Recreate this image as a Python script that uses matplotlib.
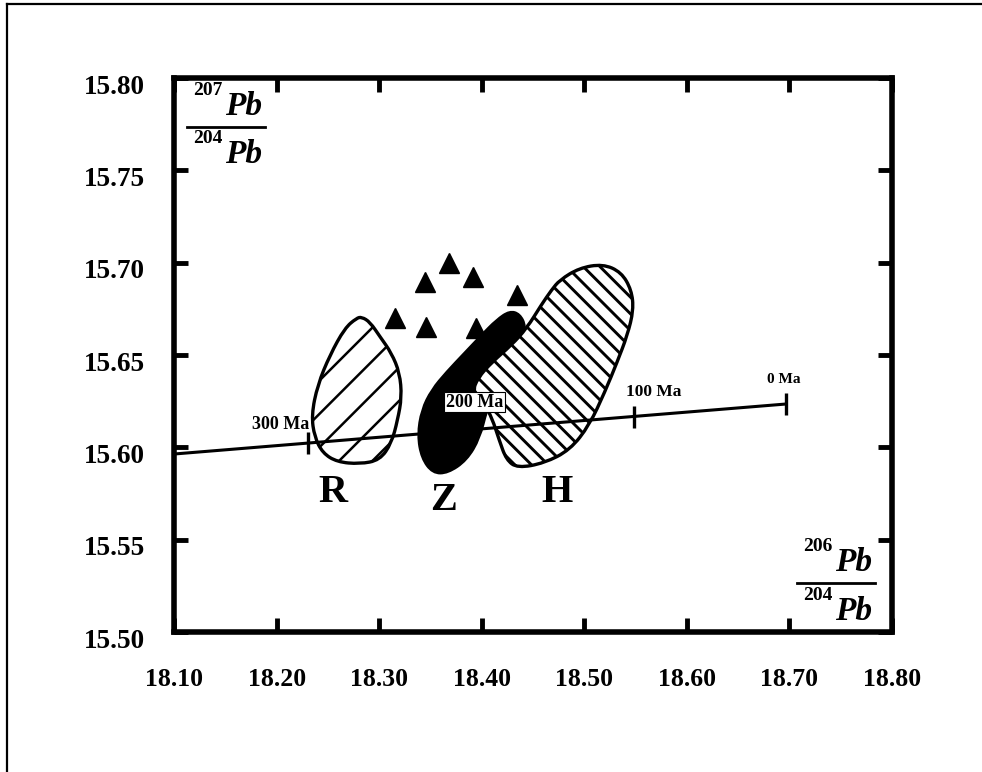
import matplotlib
matplotlib.use("Agg")
import matplotlib.pyplot as plt
from matplotlib.path import Path
from matplotlib.patches import PathPatch
from matplotlib.lines import Line2D
from matplotlib.transforms import ScaledTranslation

# ---------------- data ----------------
x_ticks = [18.10, 18.20, 18.30, 18.40, 18.50, 18.60, 18.70, 18.80]
y_ticks = [15.50, 15.55, 15.60, 15.65, 15.70, 15.75, 15.80]

# triangles (207Pb/204Pb vs 206Pb/204Pb)
tri_x = [18.315, 18.345, 18.368, 18.391, 18.346, 18.434, 18.394]
tri_y = [15.670, 15.6895, 15.700, 15.692, 15.665, 15.6825, 15.6646]

# field R (hatched /)
R_x = [18.278, 18.2665, 18.252, 18.240, 18.234, 18.237, 18.245, 18.259, 18.281,
       18.3006, 18.312, 18.318, 18.322, 18.320, 18.312, 18.301, 18.291, 18.283]
R_y = [15.670, 15.6646, 15.650, 15.6338, 15.6175, 15.6056, 15.5969, 15.5921, 15.591,
       15.5931, 15.6023, 15.6148, 15.6273, 15.6403, 15.6511, 15.6598, 15.6679, 15.6706]

# field Z (solid black)
Z_x = [18.3522, 18.3415, 18.3376, 18.3415, 18.3512, 18.3658, 18.3834, 18.3999, 18.4145,
       18.4272, 18.4369, 18.4428, 18.4389, 18.4252, 18.4126, 18.4048, 18.398, 18.3853,
       18.3668]
Z_y = [15.5861, 15.5942, 15.6067, 15.6202, 15.6311, 15.6408, 15.6511, 15.6608, 15.669,
       15.6738, 15.6722, 15.6657, 15.6565, 15.6446, 15.6321, 15.6202, 15.6051, 15.5931,
       15.5861]

# field H (hatched \)
H_x = [18.476, 18.495, 18.518, 18.536, 18.546, 18.548, 18.542, 18.532, 18.520, 18.505,
       18.486, 18.461, 18.435, 18.424, 18.417, 18.410, 18.403, 18.391, 18.396, 18.410,
       18.429, 18.444, 18.458, 18.468]
H_y = [15.6906, 15.6971, 15.6993, 15.6949, 15.6852, 15.6744, 15.6608, 15.6462, 15.630,
       15.6121, 15.5986, 15.5915, 15.5888, 15.5932, 15.604, 15.6159, 15.6229, 15.630,
       15.6375, 15.6462, 15.6554, 15.6646, 15.6771, 15.6852]

# growth curve and age marks
curve_x = [18.10, 18.697]
curve_y = [15.5964, 15.6235]
age_names = ["300 Ma", "200 Ma", "100 Ma", "0 Ma"]
age_x = [18.2305, 18.39, 18.548, 18.697]
age_y = [15.6023, 15.6096, 15.6167, 15.6235]

field_names = ["R", "Z", "H"]
field_lx = [18.255, 18.363, 18.473]
field_ly = [15.5753, 15.5715, 15.5753]

# ---------------- style ----------------
plt.rcParams["font.family"] = ["Liberation Serif", "DejaVu Serif"]

fig = plt.figure(figsize=(9.82, 7.72), dpi=100)
fig.patch.set_facecolor("white")
ax = fig.add_axes([0.1772, 0.1813, 0.7312, 0.7176])


def smooth_closed(xs, ys):
    pts = list(zip(xs, ys))
    n = len(pts)
    mid = lambda a, b: ((a[0] + b[0]) / 2, (a[1] + b[1]) / 2)
    verts = [mid(pts[-1], pts[0])]
    codes = [Path.MOVETO]
    for i in range(n):
        verts += [pts[i], mid(pts[i], pts[(i + 1) % n])]
        codes += [Path.CURVE3, Path.CURVE3]
    verts.append(verts[0])
    codes.append(Path.CLOSEPOLY)
    return Path(verts, codes)


def hatched(path, hatch, hlw, **kw):
    plt.rcParams["hatch.linewidth"] = hlw
    p = PathPatch(path, hatch=hatch, **kw)
    if hasattr(p, "set_hatch_linewidth"):
        p.set_hatch_linewidth(hlw)
    return p


ax.add_patch(PathPatch(smooth_closed(Z_x, Z_y), facecolor="black",
                       edgecolor="black", lw=2, zorder=2))
ax.add_patch(hatched(smooth_closed(R_x, R_y), "/", 1.8, facecolor="white",
                     edgecolor="black", lw=2.4, zorder=2))
ax.add_patch(hatched(smooth_closed(H_x, H_y), "\\\\", 2.1, facecolor="white",
                     edgecolor="black", lw=2.4, zorder=3))

ax.plot(curve_x, curve_y, color="black", lw=2.2, zorder=4, solid_capstyle="butt")
ax.plot([age_x[0], age_x[2], age_x[3]], [age_y[0], age_y[2], age_y[3]],
        ls="none", marker="|", ms=16, mew=2.4, color="black", zorder=4)

ax.plot(tri_x, tri_y, ls="none", marker="^", ms=15, color="black", zorder=5)

ax.text(age_x[0] + 0.001, 15.6126, age_names[0], ha="right", va="center",
        fontsize=13, fontweight="bold", zorder=6)
ax.text(18.393, 15.6245, age_names[1], ha="center", va="center",
        fontsize=13, fontweight="bold", zorder=6,
        bbox=dict(facecolor="white", edgecolor="black", lw=0.8, pad=1.0))
ax.text(18.541, 15.630, age_names[2], ha="left", va="center",
        fontsize=12.5, fontweight="bold", zorder=6)
ax.text(18.678, 15.637, age_names[3], ha="left", va="center",
        fontsize=11, fontweight="bold", zorder=6)

for name, lx, ly in zip(field_names, field_lx, field_ly):
    ax.text(lx, ly, name, ha="center", va="center", fontsize=29,
            fontweight="bold", zorder=6)


# axis label fractions
def frac(ax, x_num_end, y_base_num, y_line, x_line0, x_line1, y_base_den, top, bottom):
    ax.text(x_num_end, y_base_num + 0.036, top, transform=ax.transAxes,
            ha="right", va="baseline", fontsize=14, fontweight="bold")
    ax.text(x_num_end + 0.003, y_base_num, "Pb", transform=ax.transAxes,
            ha="left", va="baseline", fontsize=24, fontstyle="italic",
            fontweight="bold")
    ax.add_line(Line2D([x_line0, x_line1], [y_line, y_line], transform=ax.transAxes,
                       color="black", lw=2))
    ax.text(x_num_end, y_base_den + 0.036, bottom, transform=ax.transAxes,
            ha="right", va="baseline", fontsize=14, fontweight="bold")
    ax.text(x_num_end + 0.003, y_base_den, "Pb", transform=ax.transAxes,
            ha="left", va="baseline", fontsize=24, fontstyle="italic",
            fontweight="bold")


frac(ax, 0.0675, 0.933, 0.912, 0.018, 0.127, 0.8466, "207", "204")
frac(ax, 0.917, 0.110, 0.089, 0.868, 0.976, 0.0217, "206", "204")

# axes
ax.set_xlim(x_ticks[0], x_ticks[-1])
ax.set_ylim(y_ticks[0], y_ticks[-1])
ax.set_xticks(x_ticks)
ax.set_yticks(y_ticks)
ax.set_xticklabels([f"{v:.2f}" for v in x_ticks], fontsize=18.5, fontweight="bold")
ax.set_yticklabels([f"{v:.2f}" for v in y_ticks], fontsize=19.5, fontweight="bold")
ax.tick_params(direction="in", top=True, right=True, length=10, width=3.5)
ax.tick_params(axis="x", pad=26)
ax.tick_params(axis="y", pad=21)
for s in ax.spines.values():
    s.set_linewidth(4)
shift = ScaledTranslation(0, -0.06, fig.dpi_scale_trans)
for lab in ax.get_yticklabels():
    lab.set_transform(lab.get_transform() + shift)

# page frame (top and left edges)
fig.add_artist(Line2D([0.007, 0.007], [0.0, 0.995], transform=fig.transFigure,
                      color="black", lw=1.6))
fig.add_artist(Line2D([0.007, 1.0], [0.995, 0.995], transform=fig.transFigure,
                      color="black", lw=1.6))

fig.savefig("out.png", dpi=100)
